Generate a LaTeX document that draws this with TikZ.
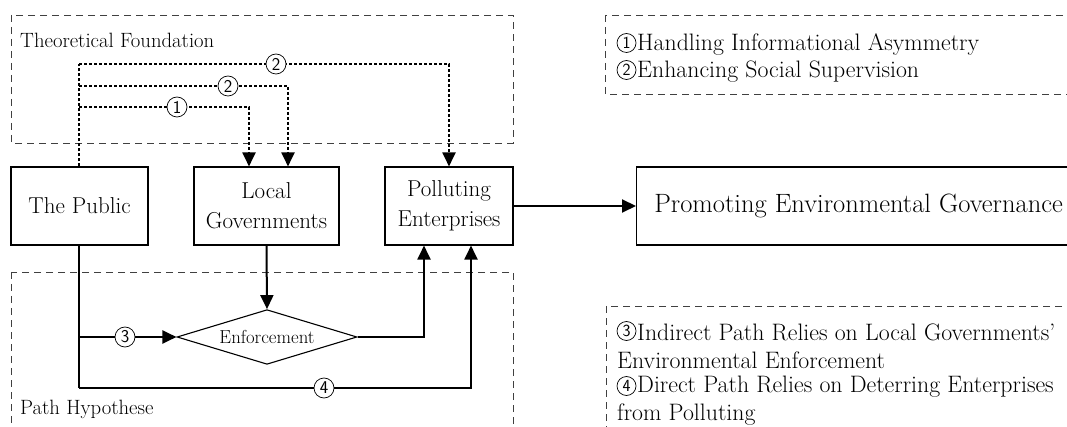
\documentclass[tikz,border=0pt]{standalone}
\usepackage{fontspec}
\usetikzlibrary{shapes.geometric,arrows.meta}
\tikzset{
  box/.style={draw,line width=1.1pt,minimum height=78pt,align=center,font=\fontsize{23}{30}\selectfont,inner sep=0pt},
  dbox/.style={draw=black!75,line width=0.9pt,dash pattern=on 7pt off 5pt},
  conn/.style={line width=2pt},
  dconn/.style={line width=2pt,dash pattern=on 3pt off 2pt},
  arr/.style={-{Triangle[length=14pt,width=13pt]}},
  cn/.style={circle,draw,line width=0.7pt,fill=white,inner sep=0.8pt,minimum size=20pt,font=\fontsize{18}{18}\sffamily},
  lcn/.style={circle,draw,line width=0.7pt,inner sep=0pt,minimum size=19pt,font=\fontsize{17}{17}\sffamily},
  lbl/.style={anchor=west,font=\fontsize{20.7}{22}\selectfont,inner sep=0pt},
  leg/.style={anchor=west,font=\fontsize{23.8}{28}\selectfont,inner sep=0pt},
}
\begin{document}
\begin{tikzpicture}[x=1pt,y=-1pt]
\useasboundingbox (0,0) rectangle (1067,427);
\clip (0,0) rectangle (1067,427);
% dashed frames
\draw[dbox] (11,15) rectangle (513,143);
\draw[dbox] (11,272) rectangle (513,445);
\draw[dbox] (605,15) rectangle (1085,94);
\draw[dbox] (606,306) rectangle (1085,445);
\node[lbl] (tf) at (20,40) {Theoretical Foundation};
\node[lbl] (ph) at (20,409) {Path Hypothese};
% legend
\node[lcn] (k1) at (626.5,43) {1};
\node[lcn] (k2) at (626.5,70) {2};
\node[lcn] (k3) at (626.5,331) {3};
\node[lcn] (k4) at (626.5,386) {4};
\node[leg] (l1) at (637,45) {Handling Informational Asymmetry};
\node[leg] (l2) at (637,72) {Enhancing Social Supervision};
\node[leg] (l3) at (637,332) {Indirect Path Relies on Local Governments’};
\node[leg] (l4) at (617,360) {Environmental Enforcement};
\node[leg] (l5) at (637,387) {Direct Path Relies on Deterring Enterprises};
\node[leg] (l6) at (617,415) {from Polluting};
% boxes
\node[box,minimum width=137pt] (pub) at (79.5,206) {The Public};
\node[box,minimum width=145pt] (loc) at (266.5,206) {Local\\Governments};
\node[box,minimum width=128pt] (pol) at (449,206) {Polluting\\Enterprises};
\node[box,minimum width=444pt,anchor=west,font=\fontsize{26.5}{30}\selectfont] (pro) at (636,206) {Promoting Environmental Governance};
\node[draw,line width=1.1pt,diamond,aspect=2.3,minimum width=180pt,inner sep=0pt,font=\fontsize{18.8}{19}\selectfont] (enf) at (267,337) {Enforcement};
% dotted connectors (theoretical)
\coordinate (t1) at (79,64);
\coordinate (t2) at (79,86);
\coordinate (t3) at (79,107);
\draw[dconn] (pub.north -| t1) -- (t1);
\draw[dconn,arr] (t1) -- (449,64) -- (pol.north);
\draw[dconn,arr] (t2) -- (288,86) -- (loc.north -| 288,0);
\draw[dconn,arr] (t3) -- (249,107) -- (loc.north -| 249,0);
\node[cn] (c2a) at (276,64) {2};
\node[cn] (c2b) at (228,86) {2};
\node[cn] (c1) at (177,107) {1};
% solid connectors (path)
\coordinate (b1) at (79,337);
\coordinate (b2) at (79,388);
\draw[conn,arr] (loc.south) -- (enf.north);
\draw[conn] (pub.south -| b2) -- (b2);
\draw[conn,arr] (b2) -- (471,388) -- (pol.south -| 471,0);
\draw[conn,arr] (b1) -- (enf.west);
\draw[conn,arr] (enf.east) -- (424,337) -- (pol.south -| 424,0);
\draw[conn,arr] (pol.east) -- (pro.west);
\node[cn] (c3) at (125,337) {3};
\node[cn] (c4) at (324,388) {4};
\end{tikzpicture}
\end{document}
